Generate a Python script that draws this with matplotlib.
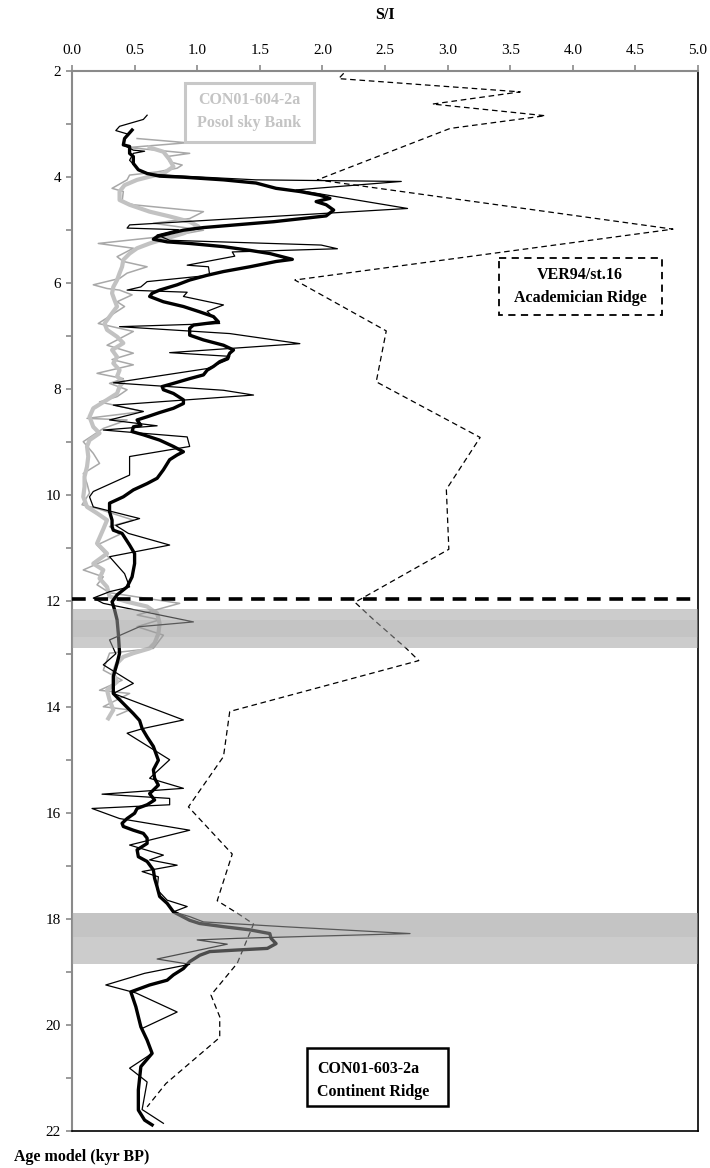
import numpy as np
import matplotlib
matplotlib.use('Agg')
import matplotlib.pyplot as plt
from matplotlib.patches import Rectangle
from matplotlib.ticker import MultipleLocator

plt.rcParams['font.family'] = ['Liberation Serif', 'DejaVu Serif']

# VER94/st.16 Academician Ridge (dashed)
ver_age = [2.05, 2.15, 2.40, 2.63, 2.85, 3.09, 4.06, 4.99, 5.95, 6.91, 7.87, 8.92, 9.90,
           11.03, 12.03, 12.36, 12.90, 13.13, 14.09, 14.94, 15.89, 16.78, 17.66, 17.91,
           18.10, 18.84, 19.44, 19.85, 20.24, 21.11, 21.55]
ver_si = [2.17, 2.13, 3.58, 2.88, 3.78, 3.02, 1.96, 4.80, 1.78, 2.51, 2.43, 3.26, 2.99,
          3.01, 2.26, 2.41, 2.67, 2.77, 1.26, 1.21, 0.93, 1.28, 1.16, 1.33,
          1.45, 1.32, 1.11, 1.18, 1.18, 0.75, 0.60]

# CON01-603-2a Continent Ridge, raw (thin black)
c603_age = [2.84, 2.92, 3.05, 3.13, 3.20, 3.28, 3.40, 3.50, 3.52, 3.56, 3.69, 3.87, 3.95,
            3.99, 4.06, 4.09, 4.25, 4.60, 4.91, 4.97, 5.00, 5.10, 5.20, 5.29, 5.36, 5.42,
            5.50, 5.67, 5.70, 5.86, 5.98, 6.08, 6.14, 6.18, 6.26, 6.42, 6.54, 6.77, 6.83,
            6.96, 7.15, 7.32, 7.39, 7.45, 7.62, 7.89, 8.03, 8.12, 8.31, 8.43, 8.59, 8.70,
            8.78, 8.91, 9.09, 9.28, 9.63, 9.94, 10.04, 10.23, 10.45, 10.58, 10.73, 10.95,
            11.17, 11.49, 11.74, 11.83, 11.95, 12.05, 12.40, 12.49, 12.74, 13.00, 13.21,
            13.56, 13.75, 14.25, 14.41, 14.50, 15.00, 15.35, 15.54, 15.65, 15.73, 15.85,
            15.92, 16.11, 16.33, 16.61, 16.80, 16.89, 16.99, 17.11, 17.21, 17.45, 17.65,
            17.77, 17.87, 17.96, 18.06, 18.15, 18.28, 18.37, 18.40, 18.48, 18.76, 18.86,
            19.03, 19.25, 19.40, 19.76, 20.07, 20.54, 20.82, 21.08, 21.60, 21.86]
c603_si = [0.60, 0.57, 0.38, 0.35, 0.45, 0.42, 0.41, 0.49, 0.58, 0.49, 0.46, 0.53, 0.62,
           0.89, 1.47, 2.63, 1.79, 2.68, 0.46, 0.44, 0.85, 0.68, 0.78, 1.99, 2.12, 1.28,
           1.30, 0.92, 1.09, 1.10, 0.60, 0.55, 0.44, 0.92, 0.89, 1.21, 1.08, 1.18, 0.38,
           1.26, 1.82, 0.78, 1.26, 1.25, 1.08, 0.33, 1.21, 1.45, 0.33, 0.57, 0.30, 0.68,
           0.25, 0.92, 0.94, 0.46, 0.46, 0.17, 0.14, 0.17, 0.54, 0.35, 0.45, 0.78,
           0.30, 0.42, 0.46, 0.30, 0.17, 0.25, 0.97, 0.54, 0.30, 0.35, 0.25,
           0.49, 0.33, 0.89, 0.57, 0.44, 0.78, 0.62, 0.89, 0.24, 0.78, 0.78,
           0.16, 0.38, 0.94, 0.46, 0.73, 0.62, 0.84, 0.56, 0.69, 0.68, 0.76,
           0.92, 0.81, 0.94, 1.05, 1.69, 2.70, 1.32, 1.00, 1.24, 0.68, 0.94,
           0.58, 0.27, 0.51, 0.84, 0.56, 0.64, 0.46, 0.60, 0.56, 0.73]

# CON01-603-2a smoothed (thick black)
c603s_age = [3.12, 3.28, 3.40, 3.43, 3.56, 3.62, 3.75, 3.87, 3.94, 3.99, 4.01, 4.06, 4.12,
             4.22, 4.28, 4.35, 4.41, 4.47, 4.53, 4.63, 4.74, 4.85, 4.96, 5.01, 5.07, 5.13,
             5.18, 5.23, 5.26, 5.32, 5.39, 5.45, 5.56, 5.60, 5.70, 5.79, 5.86, 5.95, 6.04,
             6.14, 6.20, 6.26, 6.36, 6.45, 6.55, 6.64, 6.74, 6.80, 6.86, 6.99, 7.08, 7.18,
             7.27, 7.33, 7.43, 7.49, 7.58, 7.65, 7.74, 7.81, 7.90, 7.96, 8.02, 8.09, 8.21,
             8.28, 8.37, 8.45, 8.53, 8.59, 8.69, 8.72, 8.81, 8.87, 8.97, 9.09, 9.19, 9.25,
             9.34, 9.53, 9.69, 9.79, 9.91, 10.04, 10.16, 10.32, 10.48, 10.60, 10.67, 10.73,
             10.95, 11.11, 11.30, 11.55, 11.74, 11.89, 12.02, 12.17, 12.36, 12.62, 12.99,
             13.18, 13.43, 13.75, 13.94, 14.13, 14.26, 14.41, 14.57, 14.75, 15.01, 15.19,
             15.35, 15.48, 15.64, 15.76, 15.85, 15.92, 16.01, 16.11, 16.20, 16.26, 16.33,
             16.39, 16.48, 16.58, 16.70, 16.83, 16.92, 17.08, 17.24, 17.40, 17.58, 17.71,
             17.87, 18.03, 18.09, 18.15, 18.21, 18.28, 18.37, 18.47, 18.56, 18.59, 18.62,
             18.69, 18.81, 18.94, 19.06, 19.16, 19.25, 19.38, 19.66, 20.04, 20.29, 20.54,
             20.79, 21.23, 21.61, 21.80, 21.89]
c603s_si = [0.48, 0.42, 0.41, 0.46, 0.46, 0.49, 0.49, 0.53, 0.60, 0.70, 0.89, 1.21, 1.47,
            1.63, 1.82, 1.98, 2.06, 1.95, 2.03, 2.09, 2.03, 1.61, 1.05, 0.89, 0.78, 0.68,
            0.65, 0.76, 0.94, 1.21, 1.42, 1.58, 1.76, 1.63, 1.42, 1.21, 1.08, 0.94, 0.84,
            0.70, 0.64, 0.62, 0.73, 0.89, 1.02, 1.13, 1.17, 0.97, 0.94, 0.94, 1.05, 1.21,
            1.29, 1.26, 1.24, 1.18, 1.13, 1.08, 1.05, 0.94, 0.81, 0.72, 0.73, 0.81, 0.89,
            0.89, 0.81, 0.70, 0.60, 0.52, 0.55, 0.49, 0.48, 0.57, 0.70, 0.81, 0.89, 0.84,
            0.78, 0.73, 0.68, 0.60, 0.49, 0.41, 0.30, 0.30, 0.32, 0.32, 0.33, 0.40,
            0.46, 0.50, 0.50, 0.48, 0.44, 0.36, 0.32, 0.34, 0.36, 0.37, 0.38,
            0.36, 0.33, 0.33, 0.41, 0.49, 0.54, 0.56, 0.60, 0.65, 0.69, 0.65,
            0.66, 0.69, 0.62, 0.66, 0.60, 0.52, 0.50, 0.44, 0.40, 0.41, 0.49,
            0.57, 0.60, 0.60, 0.52, 0.53, 0.60, 0.65, 0.66, 0.68, 0.70, 0.76,
            0.81, 0.94, 1.02, 1.21, 1.42, 1.58, 1.59, 1.63, 1.56, 1.32, 1.10,
            1.02, 0.94, 0.89, 0.81, 0.76, 0.62, 0.47, 0.51, 0.55, 0.60, 0.64,
            0.55, 0.53, 0.53, 0.58, 0.64]

# CON01-604-2a Posolsky Bank, raw (thin grey)
c604_age = [3.28, 3.36, 3.45, 3.56, 3.62, 3.72, 3.78, 3.84, 3.91, 3.97, 4.06, 4.22, 4.28,
            4.47, 4.53, 4.66, 4.79, 4.88, 5.01, 5.10, 5.26, 5.35, 5.51, 5.60, 5.70, 5.82,
            5.92, 6.04, 6.11, 6.14, 6.23, 6.36, 6.45, 6.77, 6.92, 7.18, 7.33, 7.45, 7.55,
            7.71, 7.81, 7.90, 8.02, 8.15, 8.25, 8.43, 8.56, 8.59, 8.75, 9.00, 9.22, 9.41,
            9.60, 9.79, 9.97, 10.19, 10.26, 10.48, 10.60, 10.75, 10.95, 11.20, 11.42, 11.55,
            11.70, 11.85, 12.05, 12.27, 12.36, 12.49, 12.65, 12.90, 12.99, 13.31, 13.50,
            13.69, 13.75, 14.00, 14.06, 14.16]
c604_si = [0.52, 0.92, 0.45, 0.94, 0.76, 0.78, 0.88, 0.84, 0.68, 0.46, 0.44, 0.32, 0.41,
           0.40, 0.49, 1.05, 0.94, 0.65, 1.05, 0.84, 0.21, 0.49, 0.36, 0.41, 0.60, 0.44,
           0.38, 0.17, 0.28, 0.38, 0.48, 0.36, 0.42, 0.21, 0.49, 0.28, 0.49, 0.32, 0.49,
           0.20, 0.41, 0.30, 0.44, 0.36, 0.22, 0.57, 0.12, 0.44, 0.25, 0.09, 0.17, 0.22,
           0.09, 0.12, 0.14, 0.08, 0.20, 0.49, 0.30, 0.38, 0.20, 0.30, 0.09, 0.25,
           0.20, 0.30, 0.86, 0.52, 0.70, 0.52, 0.73, 0.65, 0.30, 0.25, 0.40,
           0.22, 0.46, 0.25, 0.46, 0.36]

# CON01-604-2a smoothed (thick grey)
c604s_age = [3.45, 3.53, 3.68, 3.81, 3.94, 4.00, 4.06, 4.16, 4.28, 4.44, 4.53, 4.66, 4.75,
             4.85, 4.94, 5.07, 5.16, 5.26, 5.35, 5.45, 5.57, 5.70, 5.82, 5.95, 6.08, 6.20,
             6.33, 6.45, 6.64, 6.77, 6.89, 7.02, 7.14, 7.27, 7.40, 7.52, 7.65, 7.77, 7.87,
             7.96, 8.09, 8.21, 8.37, 8.53, 8.72, 8.84, 8.97, 9.09, 9.28, 9.47, 9.66, 9.85,
             10.04, 10.23, 10.35, 10.48, 10.65, 10.92, 11.11, 11.30, 11.42, 11.58, 11.74,
             11.92, 12.02, 12.11, 12.24, 12.43, 12.62, 12.80, 12.90, 12.99, 13.06, 13.18,
             13.37, 13.53, 13.69, 13.87, 14.06, 14.22]
c604s_si = [0.62, 0.73, 0.78, 0.81, 0.73, 0.62, 0.52, 0.42, 0.38, 0.38, 0.46, 0.62, 0.78,
            0.94, 1.01, 0.89, 0.76, 0.62, 0.52, 0.46, 0.41, 0.40, 0.38, 0.36, 0.33, 0.32,
            0.34, 0.36, 0.30, 0.26, 0.28, 0.36, 0.41, 0.32, 0.36, 0.33, 0.38, 0.36, 0.41,
            0.38, 0.36, 0.28, 0.17, 0.14, 0.17, 0.22, 0.14, 0.12, 0.13, 0.12, 0.10, 0.10,
            0.09, 0.12, 0.20, 0.28, 0.25, 0.20, 0.28, 0.17, 0.25, 0.22, 0.28,
            0.30, 0.44, 0.60, 0.68, 0.70, 0.69, 0.66, 0.62, 0.49, 0.41, 0.36,
            0.33, 0.36, 0.28, 0.30, 0.33, 0.29]

# shaded intervals (kyr BP) and the dashed boundary
bands = [(12.16, 12.90), (17.89, 18.86)]
inner_bands = [(12.37, 12.68), (17.90, 18.34)]
boundary = 11.97

fig = plt.figure(figsize=(7.1, 11.68), dpi=100)
ax = fig.add_axes([0.1014, 0.0319, 0.8817, 0.9076])

ax.plot(ver_si, ver_age, color='black', lw=0.9, dashes=(4.5, 3.0), zorder=3)
ax.plot(c604_si, c604_age, color='#a8a8a8', lw=1.1, zorder=2)
ax.plot(c604s_si, c604s_age, color='#c2c2c2', lw=3.0, zorder=2.5)
ax.plot(c603_si, c603_age, color='black', lw=0.9, zorder=3)
ax.plot(c603s_si, c603s_age, color='black', lw=2.4, zorder=3.5)

for lo, hi in bands:
    ax.axhspan(lo, hi, color='#9a9a9a', alpha=0.5, lw=0, zorder=5)
for lo, hi in inner_bands:
    ax.axhspan(lo, hi, color='#9a9a9a', alpha=0.15, lw=0, zorder=5)
ax.axhline(boundary, color='black', lw=2.6, dashes=(3.8, 2.4), zorder=6)

ax.set_xlim(0, 5)
ax.set_ylim(22, 2)
ax.xaxis.tick_top()
ax.xaxis.set_major_locator(MultipleLocator(0.5))
ax.xaxis.set_major_formatter(matplotlib.ticker.FormatStrFormatter('%.1f'))
ax.yaxis.set_major_locator(MultipleLocator(2))
ax.yaxis.set_minor_locator(MultipleLocator(1))
ax.tick_params(axis='both', which='both', direction='out', length=4, width=1.2,
               color='#8a8a8a', labelsize=11, pad=4)
ax.tick_params(axis='x', pad=6)

for side in ['left', 'top']:
    ax.spines[side].set_color('#8a8a8a')
    ax.spines[side].set_linewidth(1.5)
for side in ['right', 'bottom']:
    ax.spines[side].set_color('black')
    ax.spines[side].set_linewidth(1.2)

# sample labels
ax.add_patch(Rectangle((0.90, 2.23), 1.03, 1.11, fill=False, ec='#c8c8c8', lw=2.2, zorder=7))
ax.text(1.415, 2.55, 'CON01-604-2a', ha='center', va='center', fontsize=11.5,
        fontweight='bold', color='#c4c4c4', zorder=7)
ax.text(1.415, 2.98, 'Posol sky Bank', ha='center', va='center', fontsize=11.5,
        fontweight='bold', color='#c4c4c4', zorder=7)

ax.add_patch(Rectangle((3.41, 5.54), 1.30, 1.07, fill=False, ec='black', lw=1.3,
                       ls=(0, (4, 3)), zorder=7))
ax.text(4.06, 5.86, 'VER94/st.16', ha='center', va='center', fontsize=11.5,
        fontweight='bold', zorder=7)
ax.text(4.06, 6.29, 'Academician Ridge', ha='center', va='center', fontsize=11.5,
        fontweight='bold', zorder=7)

ax.add_patch(Rectangle((1.88, 20.44), 1.12, 1.09, fill=False, ec='black', lw=1.8, zorder=7))
ax.text(1.96, 20.83, 'CON01-603-2a', ha='left', va='center', fontsize=11.5,
        fontweight='bold', zorder=7)
ax.text(1.96, 21.27, 'Continent Ridge', ha='left', va='center', fontsize=11.5,
        fontweight='bold', zorder=7)

fig.text(0.542, 0.987, 'S/I', ha='center', va='center', fontsize=11.5, fontweight='bold')
fig.text(0.02, 0.0095, 'Age model (kyr BP)', ha='left', va='center', fontsize=11.5,
         fontweight='bold')

fig.savefig('out.png', dpi=100)
